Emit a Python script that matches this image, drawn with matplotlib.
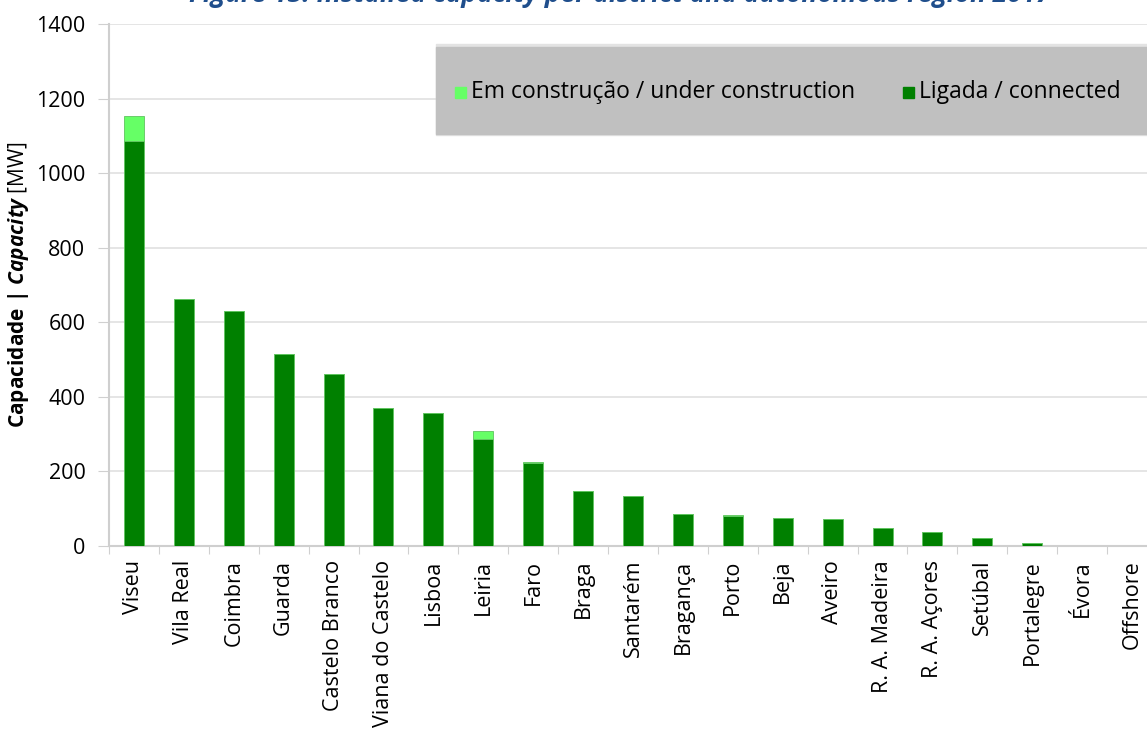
#!/usr/bin/env python3
"""Installed capacity per district and autonomous region (stacked bars)."""

import matplotlib.pyplot as plt
from matplotlib.patches import Rectangle

districts = [
    "Viseu", "Vila Real", "Coimbra", "Guarda", "Castelo Branco",
    "Viana do Castelo", "Lisboa", "Leiria", "Faro", "Braga", "Santarém",
    "Bragança", "Porto", "Beja", "Aveiro", "R. A. Madeira", "R. A. Açores",
    "Setúbal", "Portalegre", "Évora", "Offshore",
]
connected = [1085, 663, 630, 516, 460, 369, 358, 288, 222, 148, 134,
             85, 81, 75, 72, 48, 37, 21, 8, 0, 0]
under_construction = [68, 0, 0, 0, 0, 0, 0, 20, 2, 0, 0,
                      0, 1, 0, 0, 0, 0, 0, 0, 0, 0]
yticks = [0, 200, 400, 600, 800, 1000, 1200, 1400]

DARK = "#008000"
LIGHT = "#66ff66"
FONT = ["Open Sans", "DejaVu Sans"]

plt.rcParams["font.family"] = FONT
plt.rcParams["mathtext.fontset"] = "custom"
plt.rcParams["mathtext.rm"] = "Open Sans"
plt.rcParams["mathtext.bf"] = "Open Sans:bold"
plt.rcParams["mathtext.it"] = "Open Sans:italic"
plt.rcParams["mathtext.bfit"] = "Open Sans:bold:italic"

W, H = 1147, 729
fig = plt.figure(figsize=(W / 100, H / 100), dpi=100)
ax = fig.add_axes([109 / W, 1 - 546 / H, 1048 / W, 522 / H])

x = list(range(len(districts)))
ax.bar(x, connected, width=0.4, color=DARK, edgecolor="#5fc45f",
       linewidth=0.6, zorder=3)
ax.bar(x, under_construction, width=0.4, bottom=connected, color=LIGHT,
       edgecolor="#5fc45f", linewidth=0.6, zorder=3)

ax.set_xlim(-0.5, len(districts) - 0.5)
ax.set_ylim(0, 1400)
ax.set_yticks(yticks)
ax.tick_params(axis="y", labelsize=15.5, length=8, color="#d0d0d0", pad=9)
ax.set_xticks([i - 0.5 for i in x], minor=False)
ax.set_xticklabels([])
ax.set_xticks(x, minor=True)
ax.set_xticklabels(districts, minor=True, rotation=90, fontsize=15.5)
ax.tick_params(axis="x", which="major", length=6, color="#d0d0d0")
ax.tick_params(axis="x", which="minor", length=0, pad=10)

ax.grid(axis="y", color="#e0e0e0", linewidth=1.2, zorder=0)
for side in ["top", "right"]:
    ax.spines[side].set_visible(False)
for side in ["left", "bottom"]:
    ax.spines[side].set_color("#cfcfcf")
    ax.spines[side].set_linewidth(1.5)

ax.set_ylabel(r"$\mathbf{Capacidade\ |\ }\mathbfit{Capacity}$ [MW]",
              fontsize=15)
ax.yaxis.set_label_coords(-78 / 1048, 0.5)

# legend box (grey panel with shadow, as in the original)
fig.patches.append(Rectangle((436 / W, 1 - 135 / H), 720 / W, 91 / H,
                             transform=fig.transFigure, color="#e3e3e3",
                             zorder=4))
fig.patches.append(Rectangle((436 / W, 1 - 134 / H), 720 / W, 87 / H,
                             transform=fig.transFigure, color="#c0c0c0",
                             zorder=5))
fig.patches.append(Rectangle((455 / W, 1 - 98 / H), 11 / W, 11 / H,
                             transform=fig.transFigure, color=LIGHT, zorder=6))
fig.patches.append(Rectangle((903 / W, 1 - 98 / H), 11 / W, 11 / H,
                             transform=fig.transFigure, color=DARK, zorder=6))
fig.text(471 / W, 1 - 92 / H, "Em construção / under construction",
         fontsize=16.5, va="center", ha="left", zorder=7)
fig.text(919 / W, 1 - 92 / H, "Ligada / connected",
         fontsize=16.5, va="center", ha="left", zorder=7)

# the title sits mostly above the picture, only its lower part shows
fig.text(620 / W, 1 - 2 / H,
         "Figure 13: Installed capacity per district and autonomous region 2017",
         fontsize=19, fontweight="bold", fontstyle="italic", color="#1f4e8c",
         ha="center", va="baseline")

fig.savefig("out.png", dpi=100)
